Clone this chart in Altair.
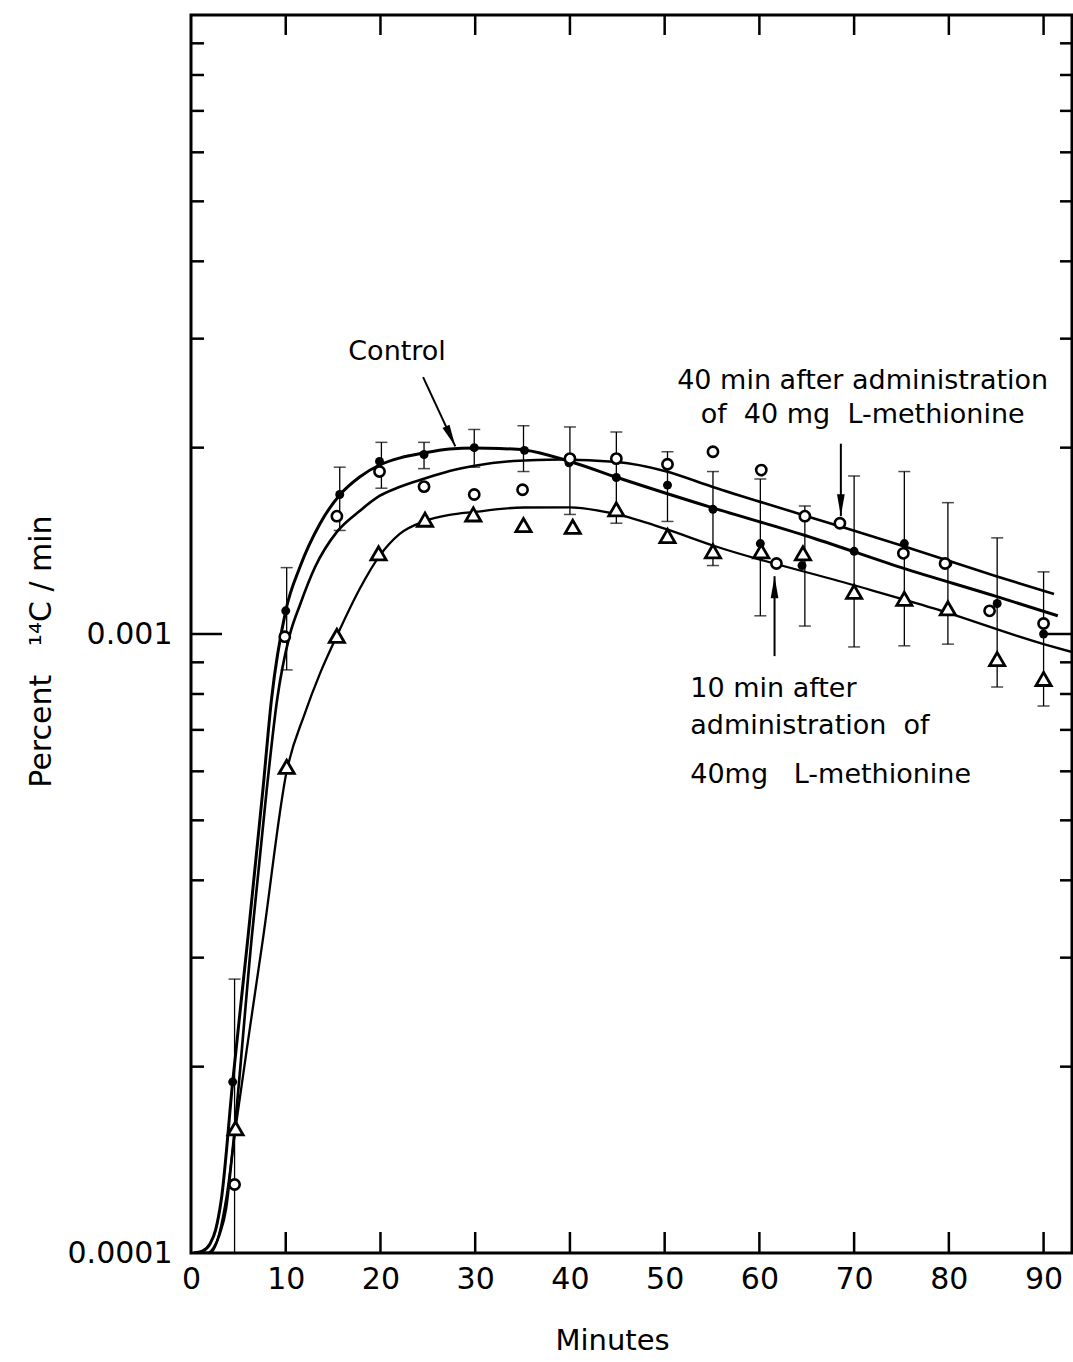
import altair as alt
import pandas as pd

# ---------------- values ----------------
# Control (filled dots)
ctrl_t = [4.4, 10.0, 15.7, 19.9, 24.6, 29.9, 35.2, 39.9, 44.9, 50.3, 55.1, 60.1, 64.5, 70.0, 75.3, 79.9, 85.1, 90.0]
ctrl_v = [0.000189, 0.00109, 0.00168, 0.00190, 0.00195, 0.00200, 0.00198, 0.00189, 0.00179, 0.00174,
          0.00159, 0.00140, 0.00129, 0.00136, 0.00140, 0.00130, 0.00112, 0.00100]

# 40 min after administration of 40 mg L-methionine (open circles)
m40_t = [4.6, 9.9, 15.4, 19.9, 24.6, 29.9, 35.0, 40.0, 44.9, 50.3, 55.1, 60.2, 61.8, 64.8, 68.5, 75.2, 79.6, 84.3, 90.0]
m40_v = [0.000129, 0.00099, 0.00155, 0.00183, 0.00173, 0.00168, 0.00171, 0.00192, 0.00192, 0.00188,
         0.00197, 0.00184, 0.00130, 0.00155, 0.00151, 0.00135, 0.00130, 0.00109, 0.00104]

# 10 min after administration of 40 mg L-methionine (open triangles)
m10_t = [4.7, 10.1, 15.4, 19.8, 24.7, 29.8, 35.1, 40.3, 44.9, 50.3, 55.1, 60.2, 64.6, 70.0, 75.3, 79.9, 85.1, 90.0]
m10_v = [0.000159, 0.000610, 0.000993, 0.00135, 0.00153, 0.00156, 0.00150, 0.00149, 0.00159, 0.00144,
         0.00136, 0.00136, 0.00135, 0.00117, 0.00114, 0.00110, 0.000911, 0.000846]

# error bars
err_t = [4.6, 10.1, 15.7, 20.1, 24.6, 29.9, 35.1, 40.0, 44.9, 50.3, 55.1, 60.1, 64.8, 70.0, 75.3, 79.9, 85.1, 90.0]
err_hi = [0.000277, 0.00128, 0.00186, 0.00204, 0.00204, 0.00214, 0.00217, 0.00216, 0.00212, 0.00197,
          0.00183, 0.00178, 0.00161, 0.00180, 0.00183, 0.00163, 0.00143, 0.00126]
err_lo = [0.0001, 0.000875, 0.00147, 0.00172, 0.00185, 0.00186, 0.00183, 0.00156, 0.00151, 0.00152,
          0.00129, 0.00107, 0.00103, 0.000953, 0.000957, 0.000963, 0.000821, 0.000765]

# fitted curves (traced)
ctrl_curve_t = [0.3, 1.2, 2.0, 2.6, 3.2, 4.4, 6.0, 7.6, 8.5, 10.0, 11.5, 13.6, 15.7, 17.8, 19.9, 22.0,
                24.5, 27.3, 29.9, 32.6, 35.2, 40.0, 45.0, 55.0, 65.0, 75.0, 85.0, 91.5]
ctrl_curve_v = [0.0001, 0.0001007, 0.0001034, 0.000109, 0.000122, 0.000189, 0.000322, 0.000562, 0.000785,
                0.00109, 0.001283, 0.001506, 0.001677, 0.001793, 0.001875, 0.001924, 0.001960, 0.001990,
                0.001998, 0.001994, 0.001983, 0.00190, 0.00179, 0.00160, 0.00144, 0.00128, 0.00115, 0.00107]

m40_curve_t = [0.3, 1.75, 2.4, 3.0, 3.7, 4.4, 6.4, 8.0, 9.1, 10.4, 11.5, 13.1, 15.4, 17.8, 19.9, 22.0,
               24.5, 27.3, 29.8, 34.0, 39.0, 45.0, 50.0, 55.0, 65.0, 75.0, 85.0, 91.1]
m40_curve_v = [0.0001, 0.0001, 0.000102, 0.000107, 0.000118, 0.000147, 0.000322, 0.000562, 0.000785,
               0.000993, 0.001114, 0.001283, 0.001462, 0.001580, 0.001671, 0.001728, 0.001780, 0.001834,
               0.001868, 0.001903, 0.001914, 0.001896, 0.001834, 0.00173, 0.00155, 0.00139, 0.00124, 0.00116]

m10_curve_t = [0.3, 2.0, 2.8, 3.7, 4.7, 6.2, 7.6, 10.1, 12.0, 13.6, 15.4, 17.8, 19.9, 22.0, 24.7, 27.3,
               29.8, 35.1, 40.0, 45.0, 50.0, 55.1, 69.9, 78.4, 90.0, 93.0]
m10_curve_v = [0.0001, 0.0001, 0.000105, 0.000122, 0.000159, 0.000230, 0.000322, 0.000600, 0.000743,
               0.000862, 0.000993, 0.001182, 0.001337, 0.001450, 0.001522, 0.001557, 0.001574, 0.001601,
               0.001602, 0.00156, 0.00148, 0.00139, 0.00120, 0.00110, 0.000963, 0.000935]

# axis ticks / labels
x_label_vals = [0, 10, 20, 30, 40, 50, 60, 70, 80, 90]
x_tick_vals = [10, 20, 30, 40, 50, 60, 70, 80, 90]
y_label_vals = [0.0001, 0.001]
y_major_vals = [0.001]
y_minor_vals = [0.0002, 0.0003, 0.0004, 0.0005, 0.0006, 0.0007, 0.0008, 0.0009,
                0.002, 0.003, 0.004, 0.005, 0.006, 0.007, 0.008, 0.009]

# annotations
NB = "\u00a0"
ann_left_text = ["Control", "10 min after", "administration" + NB + NB + "of", "40mg" + NB + NB + NB + "L-methionine"]
ann_left_t = [16.6, 52.7, 52.7, 52.7]
ann_left_v = [0.00285, 0.000815, 0.000710, 0.000592]
ann_center_text = ["40 min after administration", "of" + NB + NB + "40 mg" + NB + NB + "L-methionine"]
ann_center_t = [70.9, 70.9]
ann_center_v = [0.00256, 0.00226]

arrow_t1 = [24.5, 68.6, 61.6]
arrow_v1 = [0.00260, 0.00203, 0.000921]
arrow_t2 = [27.9, 68.6, 61.6]
arrow_v2 = [0.00201, 0.00155, 0.00124]
arrow_dir = [155, 180, 0]

# ---------------- chart ----------------
FONT = "DejaVu Sans"
W, H = 881, 1238

xs = alt.Scale(domain=[0, 93], zero=False, nice=False)
ys = alt.Scale(type="log", domain=[0.0001, 0.01], nice=False)

x_axis = alt.Axis(values=x_label_vals, ticks=False, domain=False, grid=False, labelFlush=False,
                  labelFont=FONT, labelFontSize=30, labelColor="black", labelPadding=11,
                  title="Minutes", titleFont=FONT, titleFontSize=29, titleFontWeight="normal",
                  titleColor="black", titleX=421, titleY=87, titleBaseline="middle")
y_axis = alt.Axis(values=y_label_vals, format=".4~f", ticks=False, domain=False, grid=False,
                  labelFlush=False, labelFont=FONT, labelFontSize=30, labelColor="black", labelPadding=19,
                  title="Percent" + NB + NB + NB + "¹⁴C / min", titleFont=FONT, titleFontSize=30,
                  titleFontWeight="normal", titleColor="black", titleX=-150, titleY=636, titleAngle=270,
                  titleBaseline="middle", titleAlign="center")


def X(f):
    return alt.X(f, type="quantitative", scale=xs, axis=x_axis)


def Y(f):
    return alt.Y(f, type="quantitative", scale=ys, axis=y_axis)


curves = pd.concat([
    pd.DataFrame({"t": ctrl_curve_t, "v": ctrl_curve_v, "s": "control"}),
    pd.DataFrame({"t": m40_curve_t, "v": m40_curve_v, "s": "m40"}),
    pd.DataFrame({"t": m10_curve_t, "v": m10_curve_v, "s": "m10"}),
])
curve_layer = alt.Chart(curves).mark_line(interpolate="monotone", color="black", clip=True).encode(
    x=X("t"), y=Y("v"), detail="s:N",
    strokeWidth=alt.StrokeWidth("s:N", scale=alt.Scale(domain=["control", "m40", "m10"], range=[3, 2.3, 2.3]),
                                legend=None),
)

err = pd.DataFrame({"t": err_t, "hi": err_hi, "lo": err_lo})
err_rule = alt.Chart(err).mark_rule(color="black", strokeWidth=1.3).encode(x=X("t"), y=Y("lo"), y2="hi")
cap_hi = alt.Chart(err).mark_tick(orient="horizontal", color="black", size=12, thickness=1.5).encode(x=X("t"), y=Y("hi"))
cap_lo = alt.Chart(err).mark_tick(orient="horizontal", color="black", size=12, thickness=1.5).encode(x=X("t"), y=Y("lo"))

dots = alt.Chart(pd.DataFrame({"t": ctrl_t, "v": ctrl_v})).mark_point(
    shape="circle", filled=True, color="black", size=80, opacity=1).encode(x=X("t"), y=Y("v"))
circles = alt.Chart(pd.DataFrame({"t": m40_t, "v": m40_v})).mark_point(
    shape="circle", filled=False, fill="white", fillOpacity=1, stroke="black", strokeWidth=2.6,
    size=105, opacity=1).encode(x=X("t"), y=Y("v"))
tris = alt.Chart(pd.DataFrame({"t": m10_t, "v": m10_v})).mark_point(
    shape="triangle-up", filled=False, fill="white", fillOpacity=1, stroke="black", strokeWidth=2.8,
    size=230, opacity=1).encode(x=X("t"), y=Y("v"))

# inward ticks on all four sides
ymin_df = pd.DataFrame({"v": y_minor_vals})
ymaj_df = pd.DataFrame({"v": y_major_vals})
xt_df = pd.DataFrame({"t": x_tick_vals})
tick_style = dict(color="black", strokeWidth=2.5)
t_left_minor = alt.Chart(ymin_df).mark_rule(**tick_style).encode(y=Y("v"), x=alt.value(0), x2=alt.value(13))
t_right_minor = alt.Chart(ymin_df).mark_rule(**tick_style).encode(y=Y("v"), x=alt.value(W - 12), x2=alt.value(W))
t_left_major = alt.Chart(ymaj_df).mark_rule(**tick_style).encode(y=Y("v"), x=alt.value(0), x2=alt.value(31))
t_right_major = alt.Chart(ymaj_df).mark_rule(**tick_style).encode(y=Y("v"), x=alt.value(W - 30), x2=alt.value(W))
t_bottom = alt.Chart(xt_df).mark_rule(**tick_style).encode(x=X("t"), y=alt.value(H - 21), y2=alt.value(H))
t_top = alt.Chart(xt_df).mark_rule(**tick_style).encode(x=X("t"), y=alt.value(0), y2=alt.value(20))

# annotations
ann_left = alt.Chart(pd.DataFrame({"t": ann_left_t, "v": ann_left_v, "txt": ann_left_text})).mark_text(
    font=FONT, fontSize=27, align="left", baseline="middle", color="black").encode(
    x=X("t"), y=Y("v"), text="txt:N")
ann_center = alt.Chart(pd.DataFrame({"t": ann_center_t, "v": ann_center_v, "txt": ann_center_text})).mark_text(
    font=FONT, fontSize=27, align="center", baseline="middle", color="black").encode(
    x=X("t"), y=Y("v"), text="txt:N")

arrows = pd.DataFrame({"t1": arrow_t1, "v1": arrow_v1, "t2": arrow_t2, "v2": arrow_v2, "dir": arrow_dir})
arrow_shaft = alt.Chart(arrows).mark_rule(color="black", strokeWidth=2).encode(
    x=X("t1"), y=Y("v1"), x2="t2", y2="v2")
arrow_head = alt.Chart(arrows).mark_point(
    shape="M0,0L-0.35,2L0.35,2Z", filled=True, color="black", size=484, opacity=1).encode(
    x=X("t2"), y=Y("v2"), angle=alt.Angle("dir:Q", scale=None))

chart = alt.layer(
    curve_layer, err_rule, cap_hi, cap_lo, dots, circles, tris,
    t_left_minor, t_right_minor, t_left_major, t_right_major, t_bottom, t_top,
    arrow_shaft, arrow_head, ann_left, ann_center,
).properties(
    width=W, height=H,
    autosize=alt.AutoSizeParams(type="none"),
    padding={"left": 191, "top": 15, "right": 1, "bottom": 109},
).configure(
    background="white",
    view=alt.ViewConfig(stroke="black", strokeWidth=3),
)

chart.save("out.html", embed_options={"renderer": "svg", "actions": False})
